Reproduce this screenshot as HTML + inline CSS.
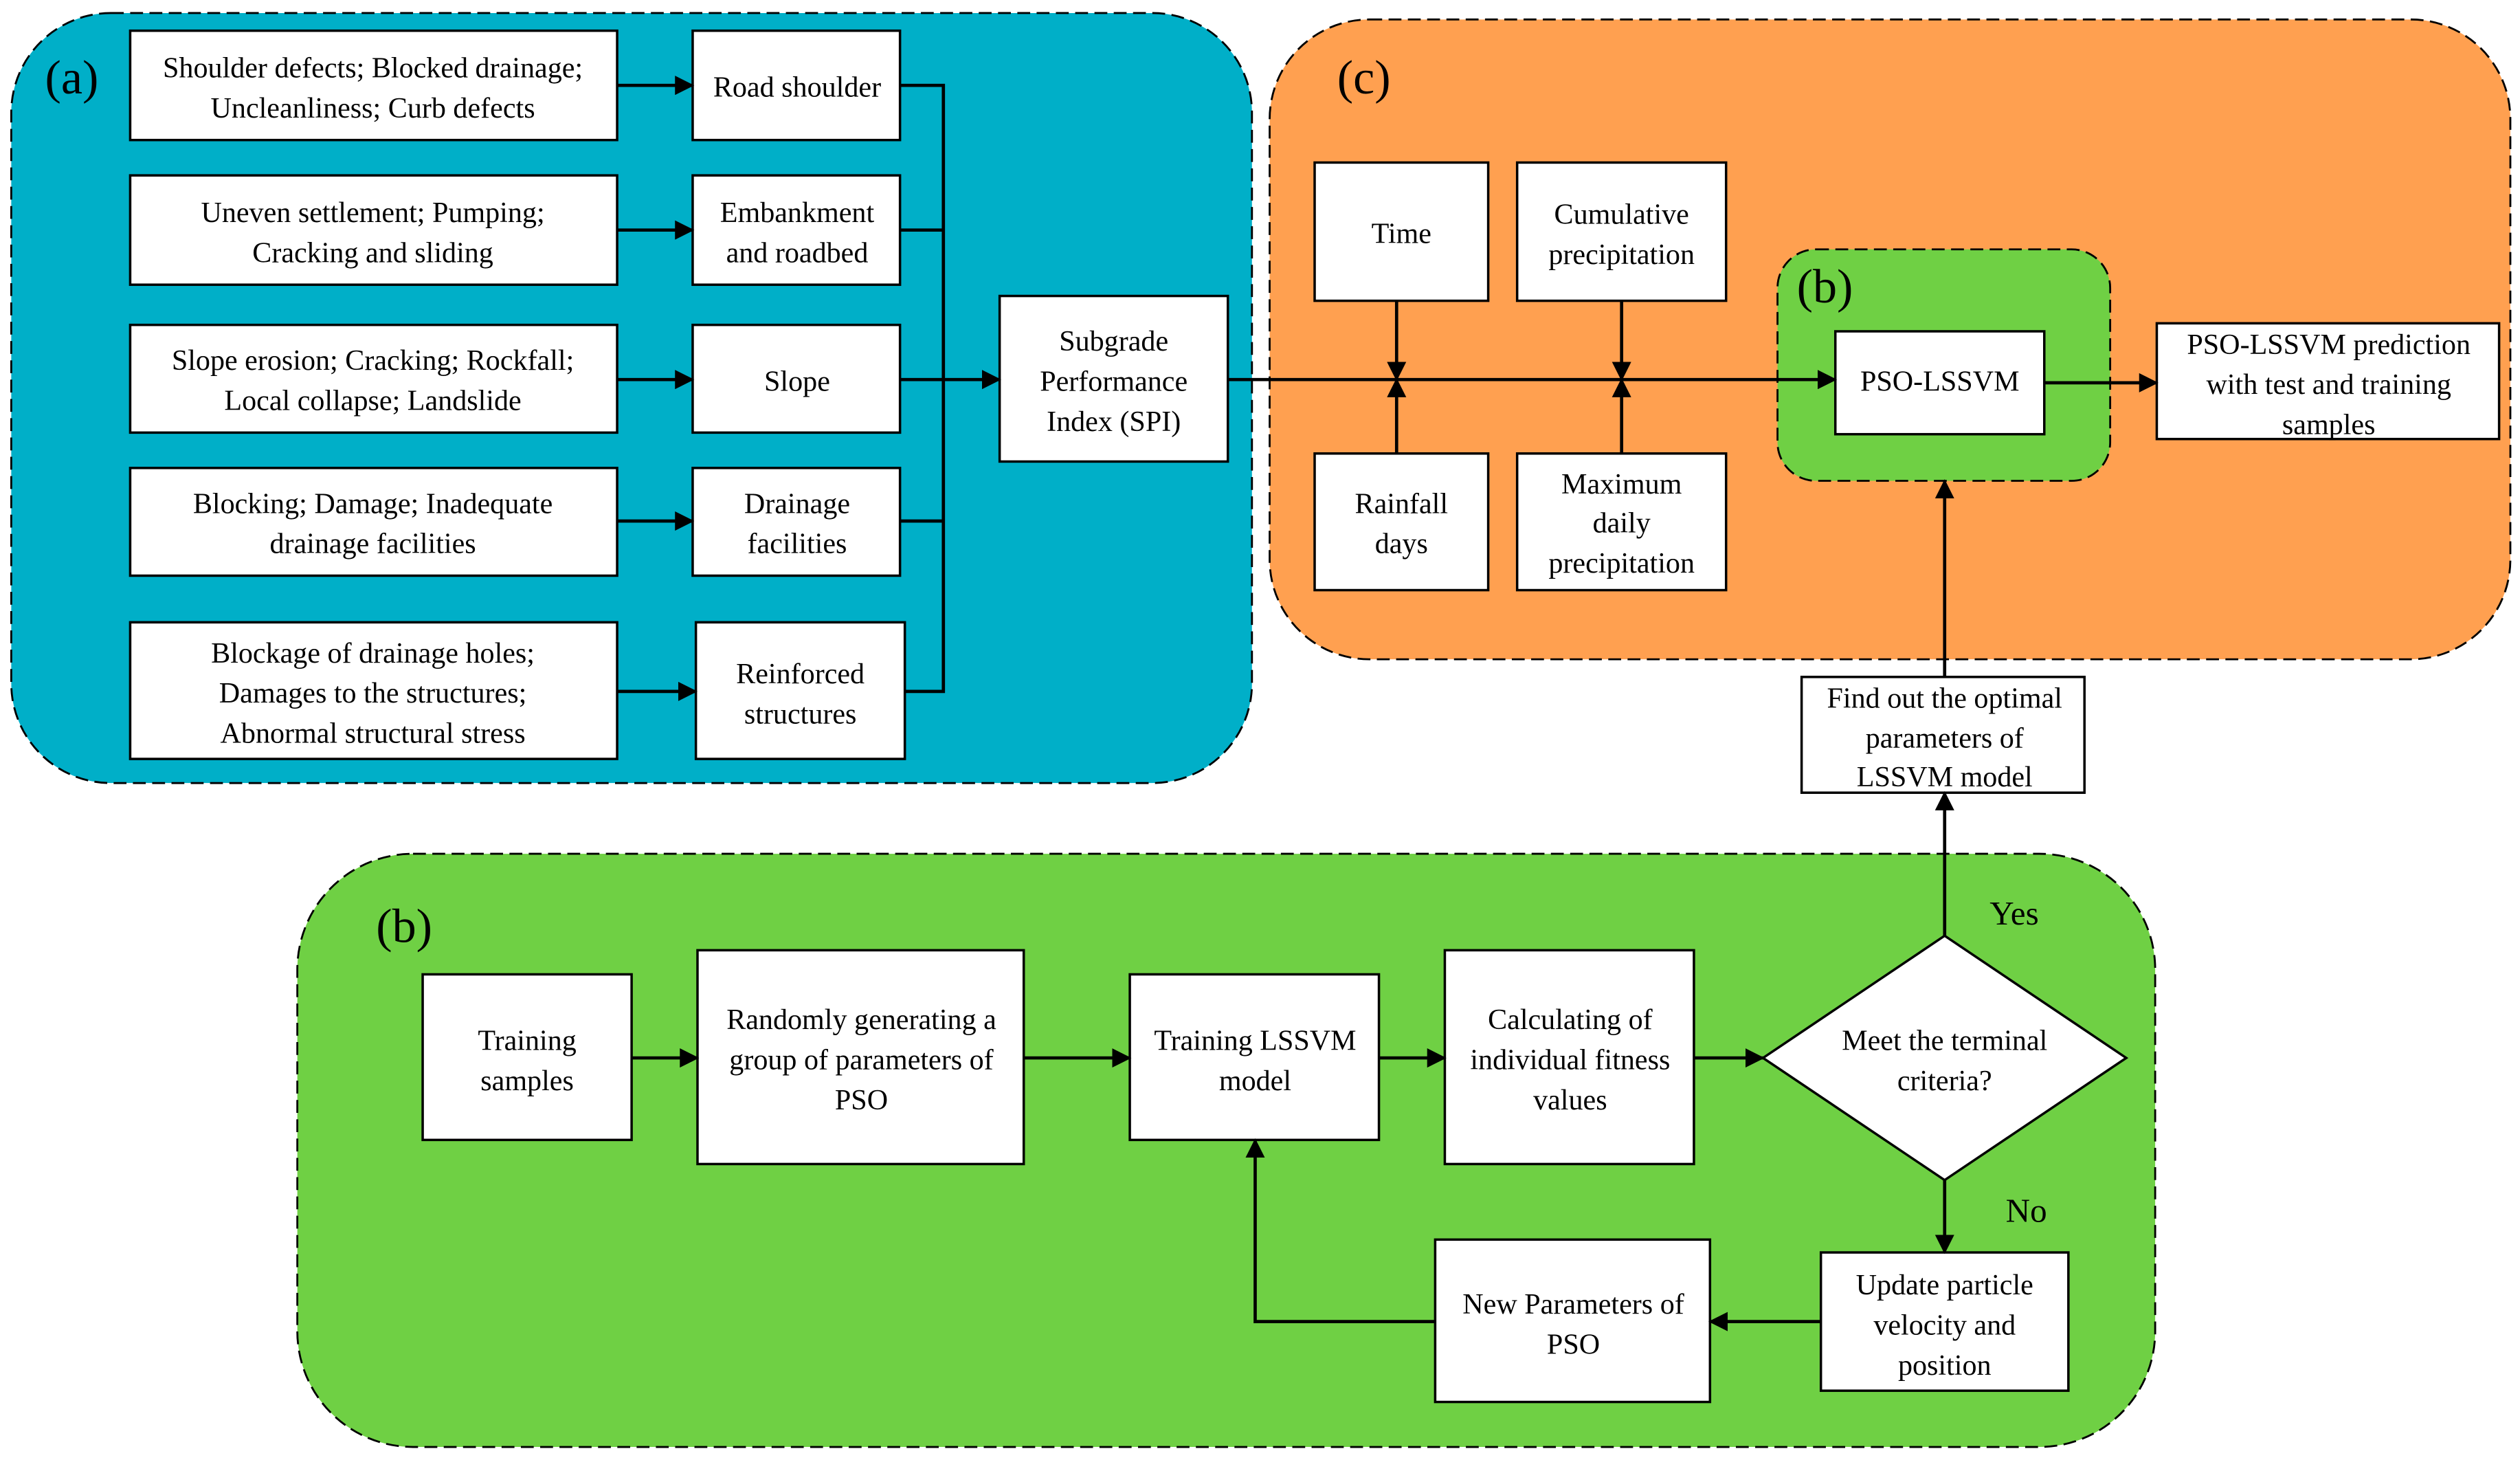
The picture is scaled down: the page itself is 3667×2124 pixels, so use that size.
<!DOCTYPE html>
<html><head><meta charset="utf-8"><style>html,body{margin:0;padding:0;background:#fff}svg{display:block}text{font-family:"Liberation Serif","Times New Roman",serif}</style></head><body>
<svg width="3667" height="2124" viewBox="0 0 1568 908" xmlns="http://www.w3.org/2000/svg" style="font-family:'Liberation Serif',serif" font-size="18">
<defs><marker id="ar" markerWidth="12" markerHeight="12" refX="11" refY="6" orient="auto" markerUnits="userSpaceOnUse" viewBox="0 0 12 12"><path d="M0,0 L12,6 L0,12z" fill="#000"/></marker></defs>
<g stroke="#000" stroke-width="1.2" stroke-dasharray="8,4">
<rect x="7" y="8" width="772" height="479" rx="62" fill="#00AFC8"/>
<rect x="790" y="12" width="772" height="398" rx="62" fill="#FFA050"/>
<rect x="185" y="531" width="1156" height="369" rx="72" fill="#6FD044"/>
<rect x="1106" y="155" width="207" height="144" rx="24" fill="#6FD044"/>
</g>
<g font-size="30"><text x="28" y="58">(a)</text><text x="832" y="58">(c)</text><text x="234" y="586">(b)</text><text x="1118" y="188">(b)</text></g>
<g fill="#fff" stroke="#000" stroke-width="1.5">
<rect x="81" y="19" width="303" height="68"/><rect x="81" y="109" width="303" height="68"/><rect x="81" y="202" width="303" height="67"/><rect x="81" y="291" width="303" height="67"/><rect x="81" y="387" width="303" height="85"/>
<rect x="431" y="19" width="129" height="68"/><rect x="431" y="109" width="129" height="68"/><rect x="431" y="202" width="129" height="67"/><rect x="431" y="291" width="129" height="67"/><rect x="433" y="387" width="130" height="85"/>
<rect x="622" y="184" width="142" height="103"/>
<rect x="818" y="101" width="108" height="86"/><rect x="818" y="282" width="108" height="85"/><rect x="944" y="101" width="130" height="86"/><rect x="944" y="282" width="130" height="85"/>
<rect x="1142" y="206" width="130" height="64"/><rect x="1342" y="201" width="213" height="72"/>
<rect x="1121" y="421" width="176" height="72"/>
<rect x="263" y="606" width="130" height="103"/><rect x="434" y="591" width="203" height="133"/><rect x="703" y="606" width="155" height="103"/><rect x="899" y="591" width="155" height="133"/>
<path d="M1210,582 L1323,658 L1210,734 L1097,658z"/>
<rect x="1133" y="779" width="154" height="86"/><rect x="893" y="771" width="171" height="101"/>
</g>
<g stroke="#000" stroke-width="2" fill="none" marker-end="url(#ar)">
<path d="M384,53H431"/><path d="M384,143H431"/><path d="M384,236H431"/><path d="M384,324H431"/><path d="M384,430H433"/>
<path d="M587,236H622"/><path d="M764,236H1142"/><path d="M869,187V236"/><path d="M869,282V236"/><path d="M1009,187V236"/><path d="M1009,282V236"/>
<path d="M1272,238H1342"/><path d="M1210,421V299"/><path d="M1210,582V493"/>
<path d="M393,658H434"/><path d="M637,658H703"/><path d="M858,658H899"/><path d="M1054,658H1097"/>
<path d="M1210,734V779"/><path d="M1133,822H1064"/><path d="M893,822H781V709"/>
</g>
<path d="M560,53H587V430H563M560,143H587M560,324H587M560,236H587" stroke="#000" stroke-width="2" fill="none"/>
<g text-anchor="middle">
<text x="232" y="48">Shoulder defects; Blocked drainage;</text><text x="232" y="73">Uncleanliness; Curb  defects</text>
<text x="232" y="138">Uneven settlement; Pumping;</text><text x="232" y="163">Cracking and sliding</text>
<text x="232" y="230">Slope erosion; Cracking; Rockfall;</text><text x="232" y="255">Local collapse; Landslide</text>
<text x="232" y="319">Blocking; Damage; Inadequate</text><text x="232" y="344">drainage facilities</text>
<text x="232" y="412">Blockage of drainage holes;</text><text x="232" y="437">Damages to the structures;</text><text x="232" y="462">Abnormal structural stress</text>
<text x="496" y="60">Road shoulder</text>
<text x="496" y="138">Embankment</text><text x="496" y="163">and roadbed</text>
<text x="496" y="243">Slope</text>
<text x="496" y="319">Drainage</text><text x="496" y="344">facilities</text>
<text x="498" y="425">Reinforced</text><text x="498" y="450">structures</text>
<text x="693" y="218">Subgrade</text><text x="693" y="243">Performance</text><text x="693" y="268">Index (SPI)</text>
<text x="872" y="151">Time</text>
<text x="1009" y="139">Cumulative</text><text x="1009" y="164">precipitation</text>
<text x="872" y="319">Rainfall</text><text x="872" y="344">days</text>
<text x="1009" y="307">Maximum</text><text x="1009" y="331">daily</text><text x="1009" y="356">precipitation</text>
<text x="1207" y="243">PSO-LSSVM</text>
<text x="1449" y="220">PSO-LSSVM prediction</text><text x="1449" y="245">with test and training</text><text x="1449" y="270">samples</text>
<text x="1210" y="440">Find out the optimal</text><text x="1210" y="465">parameters of</text><text x="1210" y="489">LSSVM model</text>
<text x="328" y="653">Training</text><text x="328" y="678">samples</text>
<text x="536" y="640">Randomly generating a</text><text x="536" y="665">group of parameters of</text><text x="536" y="690">PSO</text>
<text x="781" y="653">Training LSSVM</text><text x="781" y="678">model</text>
<text x="977" y="640">Calculating of</text><text x="977" y="665">individual fitness</text><text x="977" y="690">values</text>
<text x="1210" y="653">Meet the terminal</text><text x="1210" y="678">criteria?</text>
<text x="1210" y="805">Update particle</text><text x="1210" y="830">velocity and</text><text x="1210" y="855">position</text>
<text x="979" y="817">New Parameters of</text><text x="979" y="842">PSO</text>
</g>
<text x="1238" y="575" font-size="21">Yes</text><text x="1248" y="760" font-size="21">No</text>
</svg>
</body></html>
